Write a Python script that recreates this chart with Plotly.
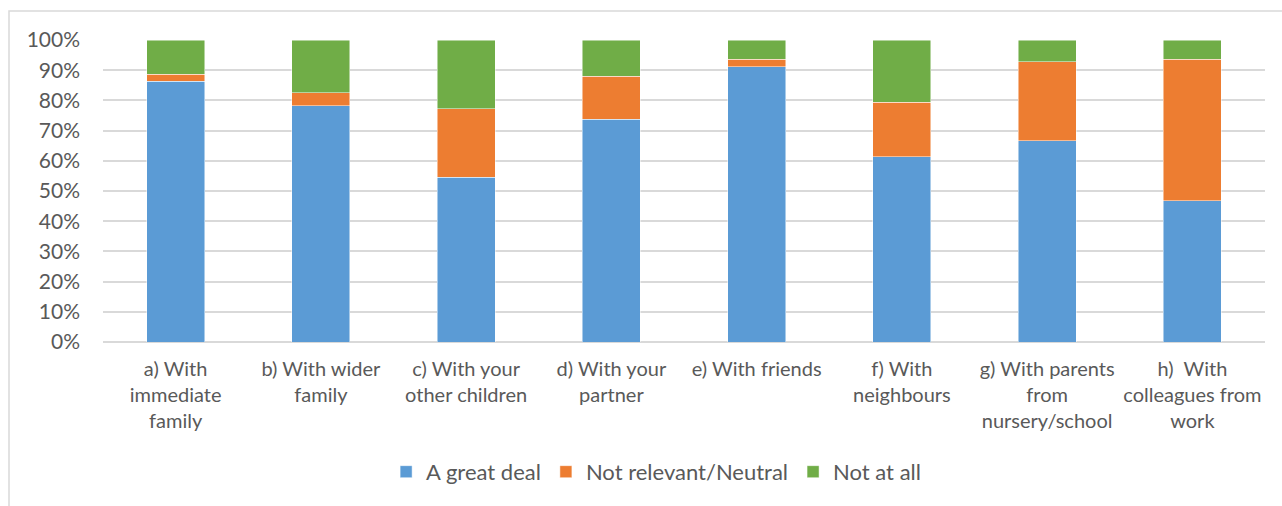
import plotly.graph_objects as go

categories = [
    "a) With<br>immediate<br>family",
    "b) With wider<br>family",
    "c) With your<br>other children",
    "d) With your<br>partner",
    "e) With friends",
    "f) With<br>neighbours",
    "g) With parents<br>from<br>nursery/school",
    "h)  With<br>colleagues from<br>work",
]
great_deal = [86.3, 78.2, 54.5, 73.7, 91.1, 61.3, 66.6, 46.7]
neutral = [2.3, 4.3, 22.7, 14.3, 2.5, 18.1, 26.2, 46.9]
not_at_all = [11.4, 17.5, 22.8, 12.0, 6.4, 20.6, 7.2, 6.4]
series_names = ["A great deal", "Not relevant/Neutral", "Not at all"]
colors = ["#5B9BD5", "#ED7D31", "#70AD47"]
y_ticks = [0, 10, 20, 30, 40, 50, 60, 70, 80, 90, 100]
y_tick_labels = [f"{v}%" for v in y_ticks]

x_idx = list(range(len(categories)))

fig = go.Figure()
for name, vals, col in zip(series_names, [great_deal, neutral, not_at_all], colors):
    fig.add_trace(go.Bar(
        x=x_idx, y=vals, name=name,
        marker=dict(color=col, line=dict(color="rgba(255,255,255,0.6)", width=0.8)),
    ))

fig.update_layout(
    barmode="stack",
    bargap=0.6,
    width=1282, height=506,
    margin=dict(l=103, r=17, t=40, b=164),
    paper_bgcolor="white", plot_bgcolor="white",
    font=dict(family="Lato", size=20, color="#595959"),
    showlegend=True,
    legend=dict(orientation="h", x=0.476, xanchor="center", y=-0.43, yanchor="middle",
                font=dict(size=22, color="#595959"), traceorder="normal",
                itemwidth=30),
    xaxis=dict(tickmode="array", tickvals=x_idx, ticktext=categories,
               range=[-0.5, len(categories) - 0.5], showgrid=False,
               showline=False, zeroline=False, ticks="", tickangle=0,
               tickfont=dict(size=20), ticklabelstandoff=13),
    yaxis=dict(range=[0, 100], tickmode="array", tickvals=y_ticks, ticktext=y_tick_labels,
               showgrid=True, gridcolor="#D9D9D9", gridwidth=1.5,
               zeroline=True, zerolinecolor="#D9D9D9", zerolinewidth=1.5,
               showline=False, ticks="", tickfont=dict(size=21), ticklabelstandoff=22),
    shapes=[dict(type="rect", xref="paper", yref="paper",
                 x0=-0.0809, x1=1.05, y0=-0.7, y1=1.096,
                 line=dict(color="#D9D9D9", width=1.5), layer="below")],
)

fig.write_html("out.html")
